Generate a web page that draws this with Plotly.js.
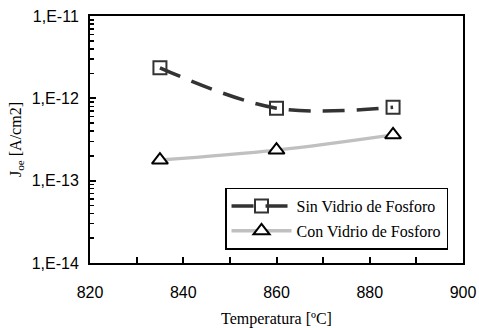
<!DOCTYPE html>
<html>
<head>
<meta charset="utf-8">
<script src="https://cdn.plot.ly/plotly-3.0.1.min.js"></script>
<style>html,body{margin:0;padding:0;background:#fff;}#chart{width:479px;height:328px;}</style>
</head>
<body>
<div id="chart"></div>
<script>
// Data
var temperatures = [835, 860, 885];
var sinVidrio = [2.35e-12, 7.6e-13, 7.8e-13];
var conVidrio = [1.78e-13, 2.35e-13, 3.6e-13];
var seriesNames = ['Sin Vidrio de Fosforo', 'Con Vidrio de Fosforo'];
var xTickVals = [820, 840, 860, 880, 900];
var xTickText = ['820', '840', '860', '880', '900'];
var yTickVals = [1e-14, 1e-13, 1e-12, 1e-11];
var yTickText = ['1,E-14', '1,E-13', '1,E-12', '1,E-11'];

var minorVals = [];
for (var e = -14; e < -11; e++) {
  for (var m = 2; m <= 9; m++) minorVals.push(m * Math.pow(10, e));
}

var serif = 'Liberation Serif';
var sans = 'Liberation Sans';

var traces = [
  {
    x: temperatures, y: sinVidrio, name: seriesNames[0], type: 'scatter', mode: 'lines+markers',
    legendgroup: 'a',
    line: {color: '#333333', width: 3.5, dash: '22px,12px', shape: 'spline', smoothing: 1},
    marker: {symbol: 'square-open', size: 13, color: '#333333', line: {width: 2, color: '#333333'}}
  },
  {
    x: temperatures, y: conVidrio, name: seriesNames[1], type: 'scatter', mode: 'lines+markers',
    legendgroup: 'b',
    line: {color: '#c0c0c0', width: 3.5, shape: 'spline', smoothing: 1},
    marker: {symbol: 'triangle-up', size: 14, color: '#ffffff', line: {width: 2, color: '#000000'}}
  }
];

var layout = {
  width: 479, height: 328,
  margin: {l: 90, r: 16, t: 16, b: 65},
  paper_bgcolor: '#ffffff', plot_bgcolor: '#ffffff',
  showlegend: true,
  legend: {
    x: 0.362, y: 0.305, xanchor: 'left', yanchor: 'top',
    bordercolor: '#000000', borderwidth: 1.5, bgcolor: '#ffffff',
    font: {family: serif, size: 16, color: '#000000'},
    itemwidth: 60, tracegroupgap: 1, traceorder: 'grouped'
  },
  xaxis: {
    range: [820, 900], tickmode: 'array', tickvals: xTickVals, ticktext: xTickText,
    ticks: 'inside', ticklen: 6, tickwidth: 2, tickcolor: '#000000',
    minor: {dtick: 10, tick0: 820, ticks: 'inside', ticklen: 6, tickwidth: 2, tickcolor: '#000000', showgrid: false},
    showline: true, linewidth: 2, linecolor: '#000000', mirror: true,
    showgrid: false, zeroline: false,
    tickfont: {family: sans, size: 16, color: '#000000'},
    ticklabelstandoff: 14,
    title: {text: 'Temperatura [ºC]', font: {family: serif, size: 16, color: '#000000'}, standoff: 13}
  },
  yaxis: {
    type: 'log', range: [-14, -11], tickmode: 'array', tickvals: yTickVals, ticktext: yTickText,
    ticks: 'inside', ticklen: 6, tickwidth: 2, tickcolor: '#000000',
    minor: {tickmode: 'array', tickvals: minorVals, ticks: 'inside', ticklen: 4, tickwidth: 1.5, tickcolor: '#000000', showgrid: false},
    showline: true, linewidth: 2, linecolor: '#000000', mirror: true,
    showgrid: false, zeroline: false,
    tickfont: {family: sans, size: 16, color: '#000000'},
    ticklabelstandoff: 6,
    title: {text: 'J<sub>oe</sub> [A/cm2]', font: {family: serif, size: 16, color: '#000000'}, standoff: 6}
  }
};

Plotly.newPlot('chart', traces, layout, {staticPlot: true, displayModeBar: false});
</script>
</body>
</html>
